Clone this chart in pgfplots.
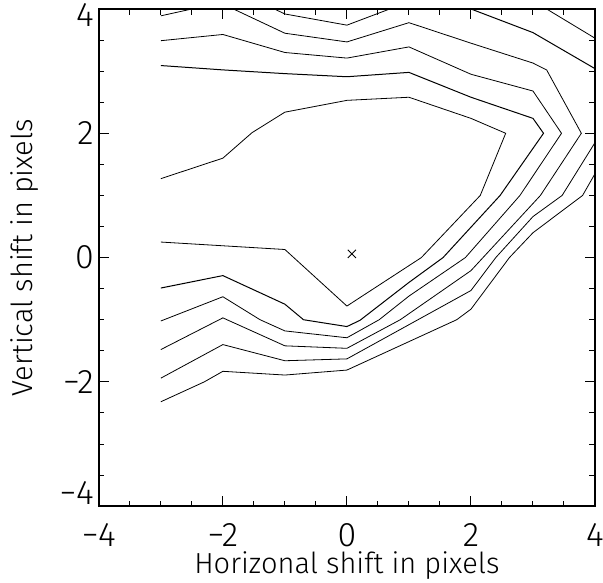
\documentclass[border=0pt]{standalone}
\usepackage{fontspec}
\setmainfont{Fira Sans Light}
\usepackage{pgfplots}
\pgfplotsset{compat=1.18}

\begin{document}
\begin{tikzpicture}
\begin{axis}[
    scale only axis,
    width=248pt, height=248.5pt,
    xmin=-4, xmax=4, ymin=-4, ymax=4,
    xtick={-4,-2,0,2,4}, ytick={-4,-2,0,2,4},
    xticklabels={−4,−2,0,2,4},
    yticklabels={\raisebox{6.5pt}[\height][\depth]{−4},−2,0,2,\raisebox{-3pt}[\height][\depth]{4}},
    minor tick num=3,
    tick align=inside,
    major tick length=5pt, minor tick length=2.8pt,
    every tick/.style={black, line width=0.5pt},
    axis line style={line width=0.7pt},
    tick label style={font=\fontsize{17}{20}\selectfont},
    xticklabel style={yshift=-5pt},
    yticklabel style={xshift=1pt},
    label style={font=\fontsize{14.5}{17}\selectfont},
    xlabel={Horizonal shift in pixels},
    ylabel={Vertical shift in pixels},
    xlabel style={at={(axis description cs:0.5,-0.12)}, anchor=center},
    ylabel style={at={(axis description cs:-0.149,0.5)}, anchor=center},
    cycle list={{black, solid, line width=0.5pt, no markers}},
]
% contour pieces at the top edge
\addplot coordinates {(-3,3.89) (-2.5,4.0)};
\addplot coordinates {(-1.17,4.0) (-1.0,3.92) (0,3.74) (0.69,4.0)};
\addplot coordinates {(2.0,4.0) (3.0,3.62) (4.0,3.04)};
\addplot coordinates {(3.22,4.0) (4.0,3.53)};
% outer contours
\addplot coordinates {(-1.83,4.0) (-1,3.61) (0,3.47) (1,3.78) (2,3.45) (3,3.13) (3.22,3.02) (3.78,2.0) (3.12,1.0) (2.0,-0.21) (0.86,-1.0) (0,-1.46) (-1,-1.42) (-2,-0.97) (-3,-1.48)};
\addplot coordinates {(-3,3.49) (-2,3.59) (-1,3.30) (0,3.21) (1,3.39) (2,2.95) (3,2.68) (3.46,2.0) (2.79,1.0) (1.91,0.0) (1.0,-0.62) (0.52,-1.0) (0,-1.29) (-1,-1.18) (-1.4,-1.0) (-2,-0.63) (-3,-1.02)};
\addplot coordinates {(-3,3.09) (-2,3.02) (-1,2.96) (0,2.91) (1,2.98) (2,2.58) (3,2.24) (3.17,2.0) (2.47,1.0) (1.55,0.0) (1.0,-0.40) (0.21,-1.01) (0,-1.11) (-0.70,-1.0) (-1,-0.75) (-2,-0.29) (-3,-0.49)};
% innermost contour
\addplot coordinates {(-3,1.27) (-2,1.60) (-1.53,2.01) (-1,2.34) (0,2.53) (1,2.58) (2,2.24) (2.56,2.0) (2.15,1.0) (1.2,0.0) (0,-0.78) (-1,0.13) (-3,0.25)};
% contours entering from the right edge
\addplot coordinates {(-3,-1.94) (-2,-1.40) (-1,-1.66) (0,-1.63) (2.0,-0.53) (2.40,0.0) (3.0,0.66) (3.47,1.0) (4.0,1.85)};
\addplot coordinates {(-3,-2.32) (-2.3,-2.0) (-2,-1.83) (-1,-1.89) (0,-1.81) (1.77,-1.0) (2.0,-0.83) (2.62,0.0) (3.0,0.40) (3.8,1.0) (4.0,1.35)};
% peak
\addplot[black, only marks, mark=x, mark size=2.9pt, mark options={line width=0.5pt}] coordinates {(0.08,0.06)};
\end{axis}
\pgfresetboundingbox
\useasboundingbox ([shift={(-49.4pt,-38pt)}]current axis.south west) rectangle ([shift={(4pt,4.5pt)}]current axis.north east);
\end{tikzpicture}
\end{document}
